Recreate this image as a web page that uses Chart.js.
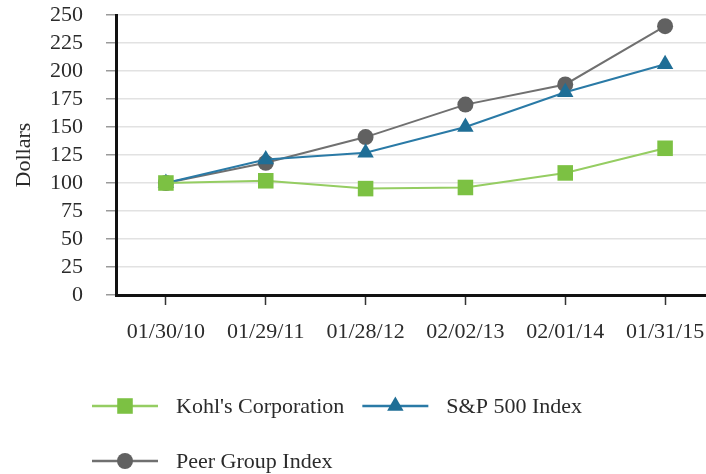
<!DOCTYPE html>
<html><head><meta charset="utf-8">
<script src="https://cdn.jsdelivr.net/npm/chart.js@4"></script>
<style>
html,body{margin:0;padding:0;overflow:hidden;background:#fff;width:706px;height:474px}
#wrap{position:relative;width:730px;height:474px}
</style></head>
<body><div id="wrap"><canvas id="c" width="730" height="474"></canvas></div>
<script>
const categories = ['01/30/10','01/29/11','01/28/12','02/02/13','02/01/14','01/31/15'];
const kohlsValues = [100, 102, 95, 96, 109, 131];
const sp500Values = [100, 121, 127, 150, 181, 206];
const peerValues  = [100, 118, 141, 170, 188, 240];
const seriesNames = ["Kohl's Corporation", 'S&P 500 Index', 'Peer Group Index'];
const yMin = 0, yMax = 250, yStep = 25;
const yTitle = 'Dollars';

const FONT = '"Liberation Serif", "Times New Roman", serif';
const TEXT = '#2b2b2b';

const styles = [
  {line:'#95cd62', point:'#7cc143', shape:'rect', r:11},
  {line:'#2a7aa6', point:'#1f6e96', shape:'triangle', r:9.5},
  {line:'#707070', point:'#616161', shape:'circle', r:8}
];
const seriesValues = [kohlsValues, sp500Values, peerValues];

function drawMarker(ctx, shape, r, x, y, color){
  ctx.save();
  ctx.fillStyle = color;
  ctx.beginPath();
  if (shape === 'rect') {
    const s = Math.SQRT1_2 * r;
    ctx.rect(x - s, y - s, 2*s, 2*s);
  } else if (shape === 'triangle') {
    ctx.moveTo(x, y - r);
    ctx.lineTo(x + r*Math.sin(Math.PI*2/3), y - r*Math.cos(Math.PI*2/3));
    ctx.lineTo(x - r*Math.sin(Math.PI*2/3), y - r*Math.cos(Math.PI*2/3));
    ctx.closePath();
  } else {
    ctx.arc(x, y, r, 0, Math.PI*2);
  }
  ctx.fill();
  ctx.restore();
}

const lineLegend = {
  id: 'lineLegend',
  afterDraw(chart){
    const ctx = chart.ctx;
    ctx.save();
    ctx.font = '22px ' + FONT;
    ctx.fillStyle = TEXT;
    ctx.textBaseline = 'middle';
    ctx.textAlign = 'left';
    const lineLen = 66, textGap = 18, itemGap = 18;
    const rows = [406, 461];
    const startX = 92;
    let x = startX, row = 0;
    chart.data.datasets.forEach((ds, i) => {
      const st = styles[i];
      const label = ds.label;
      const w = lineLen + textGap + ctx.measureText(label).width;
      if (i === 2) { row = 1; x = startX; }
      const y = rows[row];
      ctx.strokeStyle = st.line;
      ctx.lineWidth = 2.5;
      ctx.beginPath(); ctx.moveTo(x, y); ctx.lineTo(x + lineLen, y); ctx.stroke();
      drawMarker(ctx, st.shape, st.r, x + lineLen/2, y, st.point);
      ctx.fillText(label, x + lineLen + textGap, y + 1);
      x += w + itemGap;
    });
    ctx.restore();
  }
};

new Chart(document.getElementById('c'), {
  type: 'line',
  data: {
    labels: categories,
    datasets: seriesValues.map((vals, i) => ({
      label: seriesNames[i],
      data: vals,
      borderColor: styles[i].line,
      backgroundColor: styles[i].point,
      borderWidth: 2,
      pointStyle: styles[i].shape,
      pointRadius: styles[i].r,
      pointHoverRadius: styles[i].r,
      pointBackgroundColor: styles[i].point,
      pointBorderColor: styles[i].point,
      pointBorderWidth: 0,
      tension: 0,
      fill: false,
      clip: false
    }))
  },
  options: {
    responsive: false,
    animation: false,
    devicePixelRatio: 1,
    layout: {padding: {top: 15, right: 15, bottom: 100, left: 0}},
    plugins: {legend: {display: false}, tooltip: {enabled: false}},
    scales: {
      x: {
        type: 'category',
        offset: true,
        grid: {offset: false, drawOnChartArea: false, drawTicks: true, tickLength: 10, tickColor: '#333', tickWidth: 1.5},
        border: {display: true, color: '#111', width: 3},
        ticks: {font: {family: FONT, size: 22}, color: TEXT, padding: 14, maxRotation: 0, autoSkip: false},
        afterFit(s){ s.height = 79; s.paddingLeft = 0; s.paddingRight = 0; }
      },
      y: {
        min: yMin, max: yMax,
        grid: {color: '#e2e2e2', lineWidth: 1.5, tickLength: 10, tickColor: '#9a9a9a', tickWidth: 1.5},
        border: {display: true, color: '#111', width: 3},
        ticks: {stepSize: yStep, autoSkip: false, font: {family: FONT, size: 22}, color: TEXT, padding: 23},
        title: {display: true, text: yTitle, font: {family: FONT, size: 22}, color: TEXT, padding: {top: 11, bottom: 0}},
        afterFit(s){ s.width = 116; s.paddingTop = 0; s.paddingBottom = 0; }
      }
    }
  },
  plugins: [lineLegend]
});
</script>
</body></html>
